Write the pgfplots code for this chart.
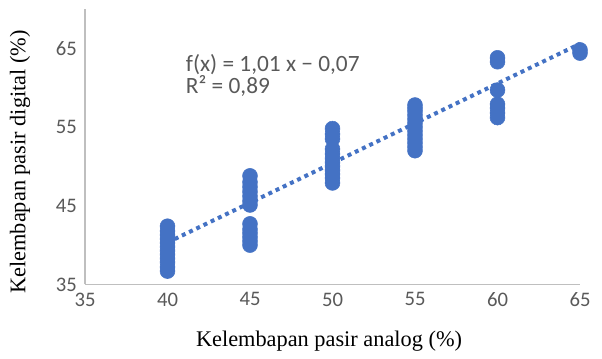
\documentclass[border=0pt]{standalone}
\usepackage{fontspec}
\setmainfont{Liberation Serif}
\newfontfamily\carlito{Carlito}
\usepackage{pgfplots}
\pgfplotsset{compat=1.18}
\definecolor{xlblue}{HTML}{4472C4}
\definecolor{axgray}{HTML}{BFBFBF}
\definecolor{txtgray}{HTML}{595959}
\begin{document}
\begin{tikzpicture}
\begin{axis}[
  scale only axis,
  width=371.25pt, height=206.6pt,
  xmin=35, xmax=65, ymin=35, ymax=70,
  xtick={35,40,45,50,55,60,65},
  ytick={35,45,55,65},
  axis x line=bottom, axis y line=left,
  axis line style={-, axgray, line width=1pt},
  major tick length=0pt,
  /pgf/number format/assume math mode=true,
  ticklabel style={font=\carlito\fontsize{15.5}{18}\selectfont, text=txtgray},
  xticklabel style={inner ysep=0pt, yshift=-6pt},
  yticklabel style={inner xsep=0pt, xshift=-6pt},
  xlabel={Kelembapan pasir analog (\%)},
  ylabel={Kelembapan pasir digital (\%)},
  every axis x label/.style={at={(axis description cs:0.493,-0.205)}, anchor=center, font=\fontsize{16.75}{19}\selectfont, text=black},
  every axis y label/.style={at={(axis description cs:-0.1313,0.445)}, anchor=center, rotate=90, font=\fontsize{16.75}{19}\selectfont, text=black},
  clip=false,
]
\addplot[only marks, mark=*, mark size=5.6pt, mark options={fill=xlblue, draw=xlblue}] coordinates {
(40,36.7) (40,37.2) (40,37.8) (40,38.3) (40,38.8) (40,39.3) (40,39.8) (40,40.3) (40,40.8) (40,41.3) (40,41.8) (40,42.4)
(45,40.0) (45,40.5) (45,41.0) (45,41.5) (45,42.0) (45,42.7) (45,45.1) (45,45.6) (45,46.2) (45,46.8) (45,47.4) (45,48.0) (45,48.8)
(50,47.9) (50,48.5) (50,49.0) (50,49.5) (50,50.0) (50,50.5) (50,51.0) (50,51.6) (50,52.2) (50,53.5) (50,54.1) (50,54.8)
(55,52.0) (55,52.5) (55,53.0) (55,53.5) (55,54.0) (55,54.5) (55,55.0) (55,55.5) (55,56.0) (55,56.5) (55,57.0) (55,57.4) (55,57.8)
(60,56.2) (60,56.8) (60,57.4) (60,57.9) (60,59.7) (60,63.3) (60,63.8)
(65,64.4) (65,64.8)
};
\addplot[xlblue, line width=3pt, dash pattern=on 3pt off 3pt] coordinates {(40,40.33) (65,65.58)};
\node[anchor=north west, align=left, text=txtgray, font=\carlito\fontsize{17.5}{16.5}\selectfont, inner sep=0pt] at (axis cs:41.1,64.3) {f(x) = 1,01 x − 0,07\\R² = 0,89};
\end{axis}
\pgfresetboundingbox
\path[use as bounding box] ([xshift=-63.75pt,yshift=-55.5pt]current axis.south west) rectangle ([xshift=16.5pt,yshift=6.75pt]current axis.north east);
\end{tikzpicture}
\end{document}
